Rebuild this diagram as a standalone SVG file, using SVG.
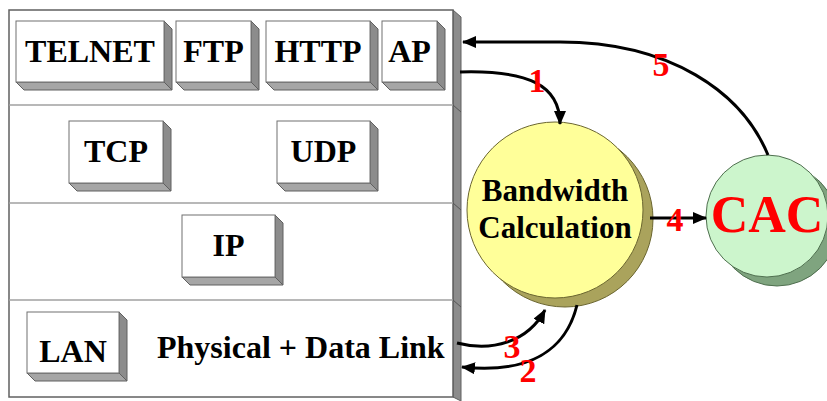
<svg xmlns="http://www.w3.org/2000/svg" width="827" height="401" viewBox="0 0 827 401">
<style>
.front{fill:#ffffff;stroke:#707070;stroke-width:1}
.side{fill:#8c8c8c;stroke:#606060;stroke-width:1}
.bot{fill:#a6a6a6;stroke:#606060;stroke-width:1}
.lbl{font-family:"Liberation Serif","Times New Roman",serif;font-weight:bold;font-size:32px;fill:#000;text-anchor:middle}
.num{font-family:"Liberation Serif","Times New Roman",serif;font-weight:bold;font-size:34px;fill:#ff0000;text-anchor:middle}
.conn{fill:none;stroke:#000;stroke-width:3}
.div{stroke:#a0a0a0;stroke-width:1.5}
</style>
<defs>
<marker id="ah" viewBox="0 0 14 12" refX="13" refY="6" markerWidth="14" markerHeight="12" markerUnits="userSpaceOnUse" orient="auto">
<path d="M0,0 L14,6 L0,12 Z" fill="#000"/>
</marker>
</defs>
<rect width="827" height="401" fill="#ffffff"/>
<g id="stack">
<polygon class="side" points="453,10 461,17 461,401 453,397"/>
<rect x="9" y="10" width="444" height="387" fill="#ffffff" stroke="#606060" stroke-width="1.5"/>
<line class="div" x1="9" y1="105" x2="453" y2="105"/>
<line class="div" x1="9" y1="203" x2="453" y2="203"/>
<line class="div" x1="9" y1="300" x2="453" y2="300"/>
<line x1="453" y1="105" x2="461" y2="112" stroke="#555" stroke-width="1"/>
<line x1="453" y1="203" x2="461" y2="210" stroke="#555" stroke-width="1"/>
<line x1="453" y1="300" x2="461" y2="307" stroke="#555" stroke-width="1"/>
</g>
<g id="telnet">
<polygon class="side" points="164,21 172,29 172,90 164,82"/>
<polygon class="bot" points="16,82 164,82 172,90 24,90"/>
<rect class="front" x="16" y="21" width="148" height="61"/>
<text class="lbl" x="90" y="62">TELNET</text>
</g>
<g id="ftp">
<polygon class="side" points="251,21 259,29 259,90 251,82"/>
<polygon class="bot" points="176,82 251,82 259,90 184,90"/>
<rect class="front" x="176" y="21" width="75" height="61"/>
<text class="lbl" x="213.5" y="62">FTP</text>
</g>
<g id="http">
<polygon class="side" points="370,21 378,29 378,90 370,82"/>
<polygon class="bot" points="266,82 370,82 378,90 274,90"/>
<rect class="front" x="266" y="21" width="104" height="61"/>
<text class="lbl" x="318" y="62">HTTP</text>
</g>
<g id="ap">
<polygon class="side" points="437,21 445,29 445,90 437,82"/>
<polygon class="bot" points="382,82 437,82 445,90 390,90"/>
<rect class="front" x="382" y="21" width="55" height="61"/>
<text class="lbl" x="409.5" y="62">AP</text>
</g>
<g id="tcp">
<polygon class="side" points="163,121 171,129 171,191 163,183"/>
<polygon class="bot" points="69,183 163,183 171,191 77,191"/>
<rect class="front" x="69" y="121" width="94" height="62"/>
<text class="lbl" x="116" y="162">TCP</text>
</g>
<g id="udp">
<polygon class="side" points="370,121 378,129 378,191 370,183"/>
<polygon class="bot" points="277,183 370,183 378,191 285,191"/>
<rect class="front" x="277" y="121" width="93" height="62"/>
<text class="lbl" x="323.5" y="162">UDP</text>
</g>
<g id="ip">
<polygon class="side" points="275,215 283,223 283,285 275,277"/>
<polygon class="bot" points="182,277 275,277 283,285 190,285"/>
<rect class="front" x="182" y="215" width="93" height="62"/>
<text class="lbl" x="228.5" y="256">IP</text>
</g>
<g id="lan">
<polygon class="side" points="119,312 127,320 127,381 119,373"/>
<polygon class="bot" points="27,373 119,373 127,381 35,381"/>
<rect class="front" x="27" y="312" width="92" height="61"/>
<text class="lbl" x="73" y="362">LAN</text>
</g>
<g id="physical">
<text class="lbl" x="157" y="358" style="text-anchor:start">Physical + Data Link</text>
</g>
<g id="bandwidth">
<circle cx="565" cy="219" r="88" fill="#aaa35c" stroke="#6b6630" stroke-width="1"/>
<circle cx="555" cy="210" r="88" fill="#ffff99" stroke="#6b6630" stroke-width="1"/>
<text class="lbl" x="555" y="201" style="font-size:31px">Bandwidth</text>
<text class="lbl" x="555" y="238" style="font-size:31px">Calculation</text>
</g>
<g id="cac">
<circle cx="777" cy="225" r="61" fill="#7fa47f" stroke="#4f6f4f" stroke-width="1"/>
<circle cx="767" cy="216" r="61" fill="#ccf5cc" stroke="#4f6f4f" stroke-width="1"/>
<text class="lbl" x="767" y="232" style="font-size:52px;fill:#ff0000">CAC</text>
</g>
<g id="connectors">
<path class="conn" d="M768,155 C742,92 670,42 560,42 L463,42" marker-end="url(#ah)"/>
<path class="conn" d="M460,72 C528,70 560,85 560,124" marker-end="url(#ah)"/>
<path class="conn" d="M650,218 L706,218" marker-end="url(#ah)"/>
<path class="conn" d="M457,343 C492,352 528,342 545,310" marker-end="url(#ah)"/>
<path class="conn" d="M577,305 C566,350 530,374 462,367" marker-end="url(#ah)"/>
<text class="num" x="537" y="92">1</text>
<text class="num" x="528" y="382">2</text>
<text class="num" x="512" y="358">3</text>
<text class="num" x="675" y="231">4</text>
<text class="num" x="661" y="76">5</text>
</g>
</svg>
